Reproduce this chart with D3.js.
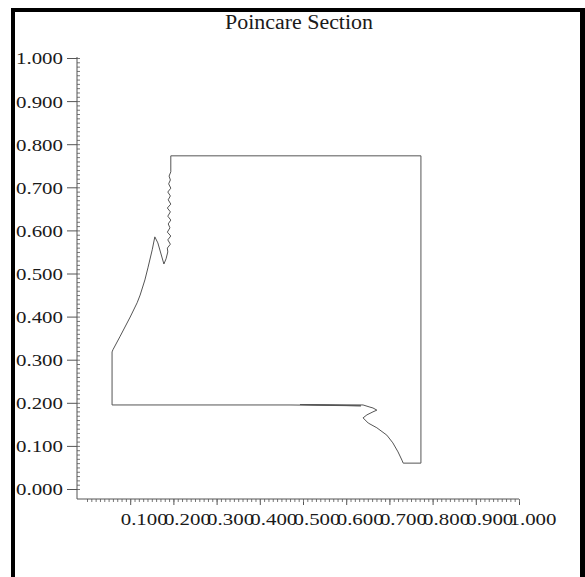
<!DOCTYPE html>
<html>
<head>
<meta charset="utf-8">
<script src="https://cdn.jsdelivr.net/npm/d3@7"></script>
<style>
  body { margin: 0; background: #fff; }
  text { font-family: "Liberation Serif", "Times New Roman", serif; fill: #1a1a1a; }
</style>
</head>
<body>
<div id="chart"></div>
<script>
const width = 585, height = 577;

// Poincare section trace (x, y)
const xs = [0.058, 0.058, 0.060, 0.076, 0.100, 0.116, 0.123, 0.134, 0.141, 0.151, 0.157, 0.164, 0.174, 0.178, 0.183, 0.187,
            0.186, 0.193, 0.187, 0.194, 0.186, 0.192, 0.188, 0.194, 0.187, 0.193, 0.186, 0.194, 0.188, 0.193, 0.187,
            0.194, 0.189, 0.193, 0.190, 0.194, 0.194, 0.773, 0.773, 0.732, 0.729, 0.720, 0.708,
            0.694, 0.671, 0.651, 0.639, 0.648, 0.662, 0.671, 0.662, 0.655, 0.639, 0.493, 0.634, 0.470, 0.058];
const ys = [0.195, 0.318, 0.323, 0.353, 0.399, 0.432, 0.450, 0.485, 0.513, 0.555, 0.585, 0.571, 0.536, 0.522, 0.534, 0.550,
            0.559, 0.568, 0.578, 0.587, 0.596, 0.606, 0.615, 0.624, 0.633, 0.643, 0.652, 0.661, 0.671, 0.680, 0.689,
            0.698, 0.708, 0.717, 0.726, 0.736, 0.773, 0.773, 0.060, 0.060, 0.067, 0.086, 0.107,
            0.125, 0.142, 0.153, 0.165, 0.172, 0.179, 0.183, 0.188, 0.190, 0.195, 0.196, 0.193, 0.195, 0.195];
const xTicks = [0.1, 0.2, 0.3, 0.4, 0.5, 0.6, 0.7, 0.8, 0.9, 1.0];
const yTicks = [0.0, 0.1, 0.2, 0.3, 0.4, 0.5, 0.6, 0.7, 0.8, 0.9, 1.0];
const title = "Poincare Section";

const svg = d3.select("#chart").append("svg")
    .attr("width", width)
    .attr("height", height);

// frame
svg.append("rect").attr("x", 11).attr("y", 8).attr("width", 574).attr("height", 4).attr("fill", "#000");
svg.append("rect").attr("x", 11).attr("y", 8).attr("width", 4).attr("height", height).attr("fill", "#000");
svg.append("rect").attr("x", 580).attr("y", 8).attr("width", 5).attr("height", height).attr("fill", "#000");

const x = d3.scaleLinear().domain([0, 1]).range([87, 519]);
const y = d3.scaleLinear().domain([0, 1]).range([489, 58]);
const axisX = 77, axisY = 499;

svg.append("text")
    .attr("x", 299).attr("y", 29)
    .attr("text-anchor", "middle")
    .attr("font-size", 20)
    .attr("textLength", 148)
    .attr("lengthAdjust", "spacingAndGlyphs")
    .text(title);

// y axis
const gy = svg.append("g").attr("transform", `translate(${axisX},0)`);
gy.call(d3.axisLeft(y).tickValues(yTicks).tickFormat(d3.format(".3f")).tickSize(10).tickPadding(4));
gy.select(".domain").remove();
gy.selectAll(".tick line").attr("stroke", "#555");
gy.selectAll(".tick text")
    .attr("font-size", 17)
    .attr("x", -14)
    .attr("dy", "0.35em")
    .attr("textLength", 47)
    .attr("lengthAdjust", "spacingAndGlyphs");

const gyMinor = svg.append("g").attr("transform", `translate(${axisX},0)`);
gyMinor.call(d3.axisRight(y).ticks(100).tickFormat("").tickSize(3));
gyMinor.select(".domain").remove();
gyMinor.selectAll(".tick line").attr("stroke", "#777");

// x axis
const gx = svg.append("g").attr("transform", `translate(0,${axisY})`);
gx.call(d3.axisBottom(x).tickValues(xTicks).tickFormat(d3.format(".3f")).tickSize(6));
gx.select(".domain").remove();
gx.selectAll(".tick line").attr("stroke", "#555");
gx.selectAll(".tick text")
    .attr("font-size", 17)
    .attr("text-anchor", "start")
    .attr("x", -10)
    .attr("y", 26)
    .attr("dy", 0)
    .attr("textLength", 47)
    .attr("lengthAdjust", "spacingAndGlyphs");

const gxMinor = svg.append("g").attr("transform", `translate(0,${axisY})`);
gxMinor.call(d3.axisBottom(x).ticks(100).tickFormat("").tickSize(3));
gxMinor.select(".domain").remove();
gxMinor.selectAll(".tick line").attr("stroke", "#777");

svg.append("line")
    .attr("x1", axisX).attr("x2", axisX)
    .attr("y1", y(1) - 1).attr("y2", axisY)
    .attr("stroke", "#555");
svg.append("line")
    .attr("x1", axisX).attr("x2", x(1))
    .attr("y1", axisY).attr("y2", axisY)
    .attr("stroke", "#555");

// trace
const line = d3.line()
    .x(i => x(xs[i]))
    .y(i => y(ys[i]));

svg.append("path")
    .datum(d3.range(xs.length))
    .attr("d", line)
    .attr("fill", "none")
    .attr("stroke", "#555")
    .attr("stroke-width", 1);
</script>
</body>
</html>
